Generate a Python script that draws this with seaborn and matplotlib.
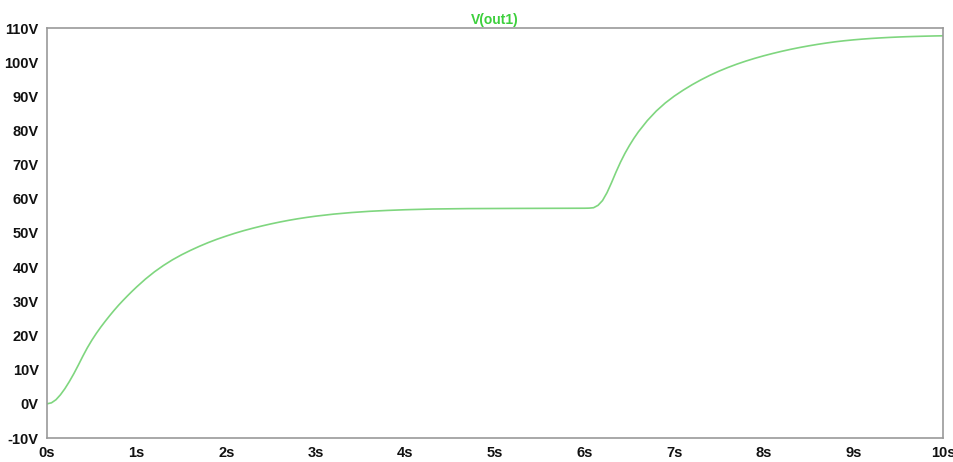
import matplotlib
matplotlib.use("Agg")
import matplotlib.pyplot as plt
import seaborn as sns
import pandas as pd

time_s = [0, 0.05, 0.1, 0.15, 0.2, 0.25, 0.3, 0.35, 0.4, 0.45, 0.5, 0.55, 0.6, 0.65, 0.7,
          0.75, 0.8, 0.85, 0.9, 0.95, 1.0, 1.1, 1.2, 1.3, 1.4, 1.5, 1.6, 1.7, 1.8, 1.9, 2.0,
          2.1, 2.2, 2.3, 2.4, 2.5, 2.6, 2.7, 2.8, 2.9, 3.0, 3.2, 3.4, 3.6, 3.8, 4.0, 4.3, 4.7,
          5.2, 6.0, 6.05, 6.1, 6.15, 6.2, 6.25, 6.3, 6.35, 6.4, 6.45, 6.5, 6.55, 6.6, 6.7,
          6.8, 6.9, 7.0, 7.1, 7.2, 7.3, 7.4, 7.5, 7.6, 7.7, 7.8, 7.9, 8.0, 8.1, 8.2, 8.3,
          8.4, 8.5, 8.6, 8.7, 8.8, 8.9, 9.0, 9.1, 9.2, 9.3, 9.4, 9.5, 9.6, 9.7, 9.8, 9.9, 10.0]
v_out1 = [0, 0.3, 1.2, 2.65, 4.45, 6.55, 8.85, 11.35, 13.95, 16.4, 18.6, 20.6, 22.45, 24.17, 25.82,
          27.4, 28.9, 30.3, 31.65, 32.95, 34.2, 36.55, 38.65, 40.5, 42.15, 43.6, 44.9, 46.1, 47.2, 48.2, 49.1,
          49.95, 50.72, 51.42, 52.07, 52.67, 53.22, 53.72, 54.17, 54.57, 54.93, 55.53, 55.99, 56.35, 56.61,
          56.81, 57.02, 57.14, 57.19, 57.25, 57.28, 57.4, 58.1, 59.5, 61.8, 64.7, 67.8, 70.7, 73.3, 75.6,
          77.7, 79.6, 82.9, 85.7, 88.05, 90.05, 91.8, 93.4, 94.85, 96.17, 97.37, 98.45, 99.43, 100.32,
          101.13, 101.87, 102.55, 103.18, 103.76, 104.29, 104.77, 105.21, 105.61, 105.97, 106.27, 106.53,
          106.75, 106.94, 107.1, 107.24, 107.36, 107.46, 107.54, 107.61, 107.67, 107.72]

x_ticks = list(range(0, 11))
x_labels = [f"{t}s" for t in x_ticks]
y_ticks = list(range(-10, 111, 10))
y_labels = [f"{v}V" for v in y_ticks]
title = "V(out1)"

sns.set_style("white")
plt.rcParams['font.family'] = ['Liberation Sans', 'DejaVu Sans']

df = pd.DataFrame({"t": time_s, "v": v_out1})

fig = plt.figure(figsize=(9.54, 4.62), dpi=100)
ax = fig.add_axes([47/954, 1 - 438/462, (943 - 47)/954, (438 - 28)/462])
sns.lineplot(data=df, x="t", y="v", ax=ax, color="#7fd67f", linewidth=1.2, sort=True)

ax.set_xlim(0, 10)
ax.set_ylim(-10, 110)
ax.set_xticks(x_ticks)
ax.set_xticklabels(x_labels)
ax.set_yticks(y_ticks)
ax.set_yticklabels(y_labels)
ax.set_xlabel("")
ax.set_ylabel("")
for s in ax.spines.values():
    s.set_color("#999999")
    s.set_linewidth(1.2)
ax.tick_params(axis="both", direction="out", length=5, width=1.2, color="#999999",
               labelsize=10.5, labelcolor="#111111", pad=1)
for lab in ax.get_xticklabels() + ax.get_yticklabels():
    lab.set_fontweight("bold")
ax.set_title(title, color="#3ccf3c", fontweight="bold", fontsize=10, pad=3)

fig.savefig("out.png", dpi=100)
